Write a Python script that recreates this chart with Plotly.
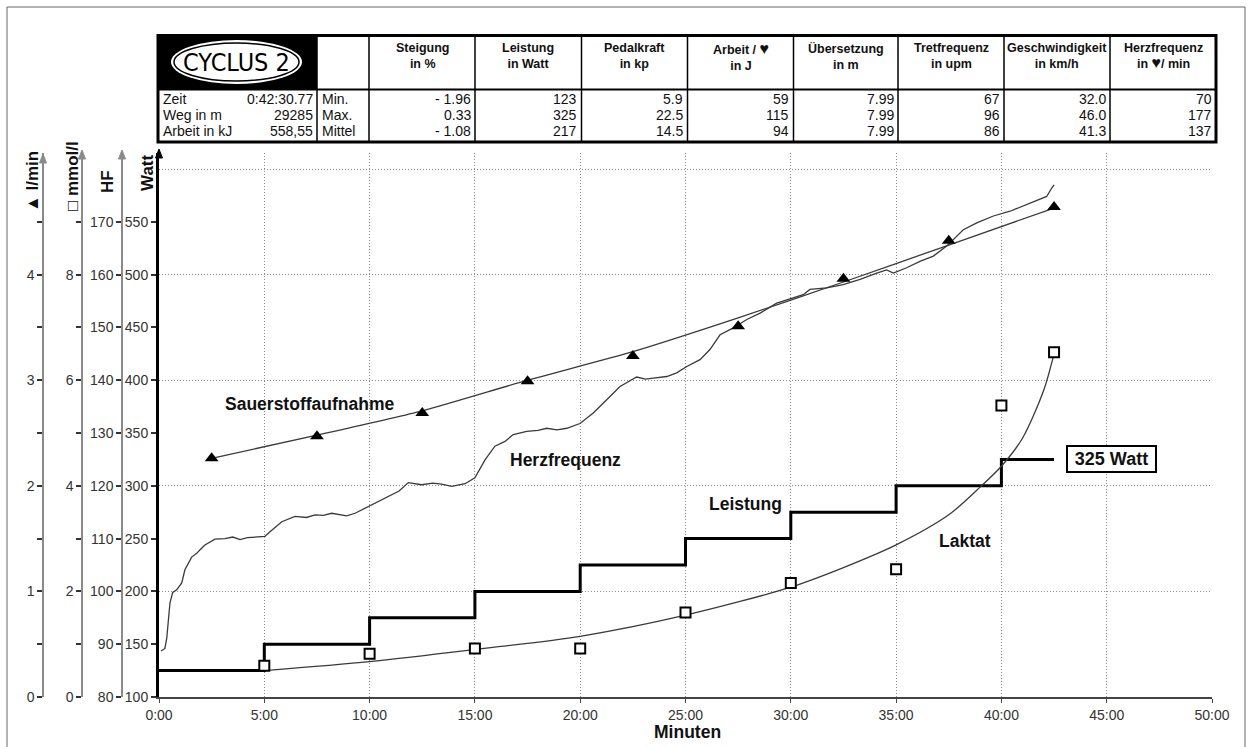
import plotly.graph_objects as go

FIG_W, FIG_H = 1254, 747

# ---------------- data ----------------
minute_ticks = [0, 5, 10, 15, 20, 25, 30, 35, 40, 45, 50]
minute_labels = ["0:00", "5:00", "10:00", "15:00", "20:00", "25:00",
                 "30:00", "35:00", "40:00", "45:00", "50:00"]

watt_ticks = [100, 150, 200, 250, 300, 350, 400, 450, 500, 550]
hf_ticks = [80, 90, 100, 110, 120, 130, 140, 150, 160, 170]
mmol_ticks = [0, 2, 4, 6, 8]
mmol_minor = [1, 3, 5, 7, 9]
lmin_ticks = [0, 1, 2, 3, 4]
lmin_minor = [0.5, 1.5, 2.5, 3.5, 4.5]
grid_watt = [200, 300, 400, 500, 600]

leistung_min = [0, 5, 10, 15, 20, 25, 30, 35, 40, 42.5]
leistung_watt = [125, 150, 175, 200, 225, 250, 275, 300, 325, 325]

hf_min = [0.1, 0.28, 0.37, 0.44, 0.52, 0.65, 0.84, 1.08, 1.23, 1.55, 1.79, 1.95,
          2.18, 2.66, 3.13, 3.5, 3.85, 4.2, 4.56, 5.03, 5.27, 5.83, 6.46, 7.0,
          7.41, 7.8, 8.2, 8.91, 9.31, 9.94, 10.4, 10.89, 11.4, 11.84, 12.47, 13.0,
          13.42, 13.9, 14.53, 15.0, 15.48, 15.95, 16.43, 16.82, 17.46, 18.0, 18.41,
          18.9, 19.36, 19.99, 20.62, 21.26, 21.89, 22.68, 23.1, 23.47, 24.11, 24.58,
          25.06, 25.69, 26.16, 26.64, 27.27, 27.91, 28.54, 29.33, 30.12, 30.59,
          30.91, 31.7, 32.49, 33.29, 34.08, 34.55, 34.87, 35.5, 36.13, 36.77, 37.4,
          37.88, 38.19, 38.83, 39.62, 40.41, 41.2, 41.83, 42.15, 42.39, 42.5]
hf_bpm = [88.7, 89.2, 91.2, 94.0, 97.8, 99.8, 100.3, 101.6, 104.1, 106.5, 107.2, 107.9,
          108.8, 109.9, 110.0, 110.3, 109.8, 110.2, 110.3, 110.4, 111.3, 113.2, 114.2, 114.0,
          114.5, 114.4, 114.8, 114.3, 114.8, 116.1, 116.9, 118.0, 119.0, 120.6, 120.2, 120.5,
          120.3, 119.9, 120.4, 121.5, 124.9, 127.5, 128.4, 129.7, 130.3, 130.5, 130.9,
          130.6, 130.9, 131.8, 133.8, 136.3, 138.8, 140.6, 140.2, 140.4, 140.7, 141.4,
          142.6, 143.9, 145.8, 148.6, 149.9, 151.5, 152.7, 154.6, 155.6, 156.2,
          157.2, 157.5, 158.1, 159.1, 160.3, 160.9, 160.3, 161.3, 162.5, 163.5, 165.4,
          167.3, 168.5, 169.8, 171.1, 172.0, 173.3, 174.2, 174.8, 176.4, 177.0]

laktat_min = [5, 10, 15, 20, 25, 30, 35, 40, 42.5]
laktat_mmol = [0.59, 0.82, 0.92, 0.92, 1.60, 2.16, 2.42, 5.52, 6.53]
laktat_fit_min = [5, 10, 15, 20, 25, 30, 32.5, 35, 37.5, 39, 40, 41, 42, 42.5]
laktat_fit_mmol = [0.50, 0.67, 0.90, 1.15, 1.55, 2.08, 2.45, 2.88, 3.45, 3.98, 4.37, 4.9, 5.8, 6.5]

vo2_min = [2.5, 7.5, 12.5, 17.5, 22.5, 27.5, 32.5, 37.5, 42.5]
vo2_lmin = [2.26, 2.47, 2.69, 2.99, 3.23, 3.51, 3.96, 4.32, 4.64]
vo2_fit_lmin = [2.26, 2.48, 2.71, 3.00, 3.27, 3.59, 3.93, 4.28, 4.63]

# table content
HEART = "<span style='font-size:16px'>\u2665</span>"
info_labels = ["Zeit", "Weg in m", "Arbeit in kJ"]
info_values = ["0:42:30.77", "29285", "558,55"]
stat_labels = ["Min.", "Max.", "Mittel"]
table_headers = ["Steigung<br>in %", "Leistung<br>in Watt", "Pedalkraft<br>in kp",
                 "Arbeit / " + HEART + "<br>in J", "\u00dcbersetzung<br>in m",
                 "Tretfrequenz<br>in upm", "Geschwindigkeit<br>in km/h",
                 "Herzfrequenz<br>in " + HEART + "/ min"]
col_steigung = ["- 1.96", "0.33", "- 1.08"]
col_leistung = ["123", "325", "217"]
col_pedalkraft = ["5.9", "22.5", "14.5"]
col_arbeit = ["59", "115", "94"]
col_uebersetzung = ["7.99", "7.99", "7.99"]
col_tretfrequenz = ["67", "96", "86"]
col_geschw = ["32.0", "46.0", "41.3"]
col_herzfreq = ["70", "177", "137"]
table_columns = [col_steigung, col_leistung, col_pedalkraft, col_arbeit,
                 col_uebersetzung, col_tretfrequenz, col_geschw, col_herzfreq]

# ---------------- geometry helpers ----------------
def px(x):
    return x / FIG_W


def py(y):
    return 1 - y / FIG_H


X0_PX, X1_PX = 159, 1212
YBOT_PX, YTOP_PX = 697, 153
PX_PER_W = (697 - 169) / 500.0
W_TOP = 100 + (YBOT_PX - YTOP_PX) / PX_PER_W
dom_x = [px(X0_PX), px(X1_PX)]
dom_y = [py(YBOT_PX), py(YTOP_PX)]

FONT = "Liberation Sans, Arial, Helvetica, sans-serif"
tick_font = dict(family=FONT, size=14, color="#333333")
GRID_COLOR = "#8c8c8c"
GRID_DASH = "1px,2px"

fig = go.Figure()

# Leistung step line
fig.add_trace(go.Scatter(x=leistung_min, y=leistung_watt, mode="lines",
                         line=dict(color="black", width=3, shape="hv"),
                         yaxis="y", showlegend=False, hoverinfo="skip"))
# Herzfrequenz
fig.add_trace(go.Scatter(x=hf_min, y=hf_bpm, mode="lines",
                         line=dict(color="#3a3a3a", width=1.3),
                         yaxis="y2", showlegend=False, hoverinfo="skip"))
# Laktat
fig.add_trace(go.Scatter(x=laktat_fit_min, y=laktat_fit_mmol, mode="lines",
                         line=dict(color="#3a3a3a", width=1.3, shape="spline", smoothing=0.8),
                         yaxis="y3", showlegend=False, hoverinfo="skip"))
fig.add_trace(go.Scatter(x=laktat_min, y=laktat_mmol, mode="markers",
                         marker=dict(symbol="square", size=10, color="white",
                                     line=dict(color="black", width=2)),
                         yaxis="y3", showlegend=False, hoverinfo="skip"))
# Sauerstoffaufnahme
fig.add_trace(go.Scatter(x=vo2_min, y=vo2_fit_lmin, mode="lines",
                         line=dict(color="#3a3a3a", width=1.3, shape="spline", smoothing=0.6),
                         yaxis="y4", showlegend=False, hoverinfo="skip"))
fig.add_trace(go.Scatter(x=vo2_min, y=vo2_lmin, mode="markers",
                         marker=dict(symbol="triangle-up", size=12, color="black"),
                         yaxis="y4", showlegend=False, hoverinfo="skip"))
# grid helper axis
fig.add_trace(go.Scatter(x=[None], y=[None], yaxis="y5", showlegend=False, hoverinfo="skip"))

free_axis = dict(domain=dom_y, overlaying="y", anchor="free", side="left",
                 showline=True, linecolor="#8a8a8a", linewidth=1.5,
                 ticks="outside", ticklen=5, tickwidth=1.5, tickcolor="#333333",
                 showgrid=False, zeroline=False, tickfont=tick_font, automargin=False)

fig.update_layout(
    width=FIG_W, height=FIG_H, autosize=False,
    margin=dict(l=0, r=0, t=0, b=0, pad=0, autoexpand=False),
    paper_bgcolor="white", plot_bgcolor="white",
    xaxis=dict(domain=dom_x, range=[0, 50], tickvals=minute_ticks, ticktext=minute_labels,
               showgrid=True, gridcolor=GRID_COLOR, griddash=GRID_DASH, gridwidth=1,
               showline=True, linecolor="#444444", linewidth=2,
               ticks="outside", ticklen=4, tickcolor="#444444",
               zeroline=False, tickfont=tick_font, anchor="y", automargin=False),
    yaxis=dict(domain=dom_y, range=[100, W_TOP], tickvals=watt_ticks,
               showgrid=False, showline=True, linecolor="black", linewidth=3,
               ticks="outside", ticklen=5, tickwidth=1.5, tickcolor="#333333",
               zeroline=False, tickfont=tick_font, anchor="x", automargin=False),
    yaxis2=dict(free_axis, range=[80, 80 + (W_TOP - 100) / 5.0], tickvals=hf_ticks,
                position=px(122)),
    yaxis3=dict(free_axis, range=[0, (W_TOP - 100) / 50.0], tickvals=mmol_ticks,
                minor=dict(tickvals=mmol_minor, ticks="outside", ticklen=5,
                           tickwidth=1.5, tickcolor="#333333"),
                position=px(82)),
    yaxis4=dict(free_axis, range=[0, (W_TOP - 100) / 100.0], tickvals=lmin_ticks,
                minor=dict(tickvals=lmin_minor, ticks="outside", ticklen=5,
                           tickwidth=1.5, tickcolor="#333333"),
                position=px(43)),
    yaxis5=dict(domain=dom_y, range=[100, W_TOP], overlaying="y", anchor="x",
                tickvals=grid_watt, showgrid=True, gridcolor=GRID_COLOR, griddash=GRID_DASH,
                gridwidth=1, showticklabels=False, ticks="", showline=False, zeroline=False,
                automargin=False),
)

shapes = []
annotations = []


def ann(x, y, text, size=14, bold=False, xanchor="center", color="#111111", **kw):
    t = "<b>%s</b>" % text if bold else text
    d = dict(x=px(x), y=py(y), xref="paper", yref="paper", text=t, showarrow=False,
             xanchor=xanchor, yanchor="middle",
             font=dict(family=kw.pop("family", FONT), size=size, color=color))
    d.update(kw)
    annotations.append(d)


def line(x0, y0, x1, y1, color="black", width=1.5):
    shapes.append(dict(type="line", xref="paper", yref="paper",
                       x0=px(x0), y0=py(y0), x1=px(x1), y1=py(y1),
                       line=dict(color=color, width=width)))


# outer frame
shapes.append(dict(type="rect", xref="paper", yref="paper", x0=px(7), x1=px(1245),
                   y0=py(7), y1=py(780), line=dict(color="#666666", width=1)))

# axis arrowheads
for ax_x, top, col in [(159, 149, "black"), (122, 150, "#8a8a8a"),
                       (82, 150, "#8a8a8a"), (43, 154, "#8a8a8a")]:
    shapes.append(dict(type="path", xref="paper", yref="paper",
                       path="M %f %f L %f %f L %f %f Z" % (px(ax_x - 3.5), py(top + 9),
                                                           px(ax_x), py(top),
                                                           px(ax_x + 3.5), py(top + 9)),
                       fillcolor=col, line=dict(color=col, width=1)))

# ---------------- table ----------------
T_L, T_R, T_T, T_M, T_B = 158, 1216, 35.5, 89.5, 142
col_edges = [369, 475, 581.5, 687.5, 793.5, 898, 1004, 1110, 1216]
shapes.append(dict(type="rect", xref="paper", yref="paper", x0=px(T_L), x1=px(T_R),
                   y0=py(T_T), y1=py(T_B), fillcolor="white", line=dict(width=0)))
shapes.append(dict(type="rect", xref="paper", yref="paper", x0=px(T_L), x1=px(317),
                   y0=py(T_T), y1=py(T_M), fillcolor="black", line=dict(width=0)))
# logo
shapes.append(dict(type="circle", xref="paper", yref="paper", x0=px(171), x1=px(302),
                   y0=py(40), y1=py(84), fillcolor="white", line=dict(width=0)))
shapes.append(dict(type="circle", xref="paper", yref="paper", x0=px(174), x1=px(299),
                   y0=py(43), y1=py(81), fillcolor="white",
                   line=dict(color="black", width=1.5)))
ann(236.5, 62, "CYCLUS 2", size=25, color="black",
    family="DejaVu Sans Condensed, Liberation Sans Narrow, Arial Narrow, sans-serif")

line(317, T_T, 317, T_B, width=1.5)
for ce in col_edges[:-1]:
    line(ce, T_T, ce, T_B, width=1.5)
line(T_L, T_M, T_R, T_M, width=2)
shapes.append(dict(type="rect", xref="paper", yref="paper", x0=px(T_L), x1=px(T_R),
                   y0=py(T_T), y1=py(T_B), line=dict(color="black", width=3)))

row_y = [99, 115, 131]
for i in range(3):
    ann(161, row_y[i], info_labels[i], size=14, xanchor="left")
    ann(315, row_y[i], info_values[i], size=14, xanchor="right")
    ann(320, row_y[i], stat_labels[i], size=14, xanchor="left")
for j, col in enumerate(table_columns):
    left, right = col_edges[j], col_edges[j + 1]
    ann((left + right) / 2.0, 56, table_headers[j], size=12.5, bold=True)
    for i in range(3):
        ann(right - 2.5, row_y[i], col[i], size=14, xanchor="right")

# ---------------- axis titles ----------------
ann(32, 182, "\u25b2 l/min", size=17, bold=True, textangle=-90)
ann(72, 176, "\u25a1 mmol/l", size=17, bold=True, textangle=-90)
ann(107, 182, "HF", size=17, bold=True, textangle=-90)
ann(147, 173, "Watt", size=17, bold=True, textangle=-90)
ann(687, 732, "Minuten", size=17.5, bold=True)

# ---------------- curve labels ----------------
ann(309, 404, "Sauerstoffaufnahme", size=17.5, bold=True)
ann(565, 460, "Herzfrequenz", size=17.5, bold=True)
ann(745, 503.5, "Leistung", size=17.5, bold=True)
ann(964.5, 541, "Laktat", size=17.5, bold=True)
ann(1111.5, 458.5, "325 Watt", size=18, bold=True, bordercolor="black", borderwidth=2,
    borderpad=0, bgcolor="white", width=87, height=24)

fig.update_layout(shapes=shapes, annotations=annotations)

fig.write_html("out.html", config={"displayModeBar": False})
